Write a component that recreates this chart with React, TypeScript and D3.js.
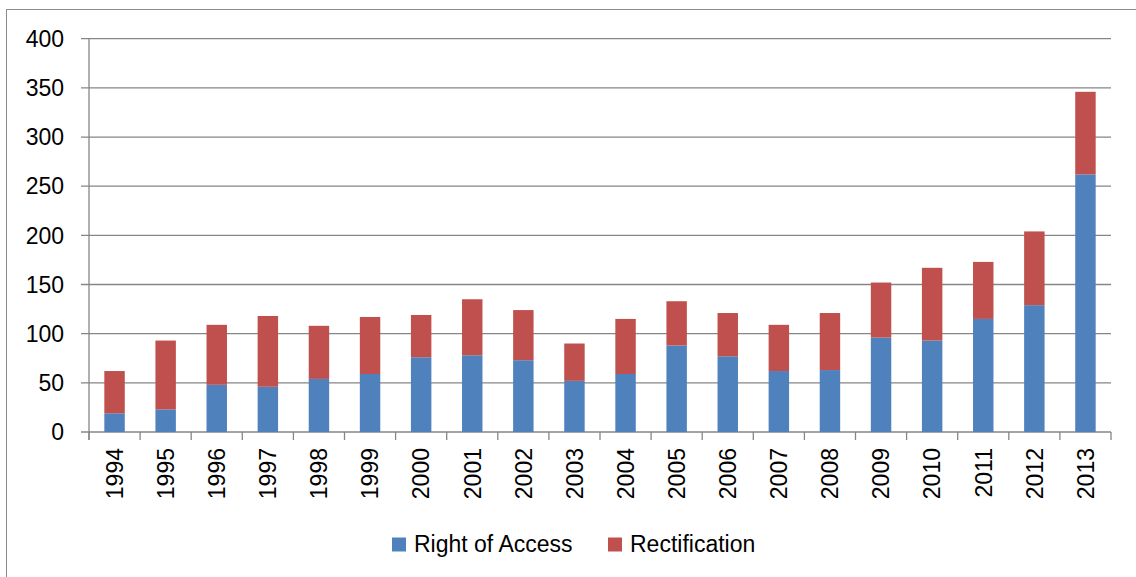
import React from "react";
import * as d3 from "d3";

const years = ["1994","1995","1996","1997","1998","1999","2000","2001","2002","2003","2004","2005","2006","2007","2008","2009","2010","2011","2012","2013"];
const rightOfAccess = [19,23,48,46,54,59,76,78,73,52,59,88,77,62,63,96,93,115,129,262];
const rectification = [43,70,61,72,54,58,43,57,51,38,56,45,44,47,58,56,74,58,75,84];
const yTicks = [0,50,100,150,200,250,300,350,400];
const seriesNames = ["Right of Access","Rectification"];
const seriesColors = ["#4F81BD","#C0504D"];

const W = 1136, H = 577;
const plotLeft = 89, plotRight = 1111, plotTop = 38.7, plotBottom = 432;
const FONT = "'Liberation Sans', Arial, sans-serif";

export default function App() {
  const x = d3.scaleBand<string>().domain(years).range([plotLeft, plotRight]).paddingInner(0.6).paddingOuter(0.3);
  const band = d3.scaleBand<string>().domain(years).range([plotLeft, plotRight]);
  const y = d3.scaleLinear().domain([0, 400]).range([plotBottom, plotTop]);

  const table = years.map((yr, i) => ({ year: yr, a: rightOfAccess[i], r: rectification[i] }));
  const stack = d3.stack<any>().keys(["a", "r"])(table);
  const grid = "#868686";

  const edges = years.map((yr) => band(yr)!).concat([plotRight]);

  return (
    <svg width={W} height={H} style={{ position: "absolute", left: 0, top: 0, background: "#fff" }} fontFamily={FONT}>
      <rect x={6.5} y={9.5} width={1200} height={700} fill="#fff" stroke="#8c8c8c" strokeWidth={1} />
      {yTicks.map((t) => (
        <g key={t}>
          <line x1={plotLeft - 8} x2={plotRight} y1={y(t)} y2={y(t)} stroke={grid} strokeWidth={1.3} />
          <text x={64} y={y(t)} dy="0.36em" textAnchor="end" fontSize={23} fill="#000">{t}</text>
        </g>
      ))}
      <line x1={plotLeft} x2={plotLeft} y1={plotTop} y2={plotBottom + 8} stroke={grid} strokeWidth={1.3} />
      {edges.map((e, i) => (
        <line key={i} x1={e} x2={e} y1={plotBottom} y2={plotBottom + 8} stroke={grid} strokeWidth={1.3} />
      ))}
      {stack.map((s, si) => (
        <g key={si} fill={seriesColors[si]}>
          {s.map((d, i) => (
            <rect key={i} x={x(years[i])} width={x.bandwidth()} y={y(d[1])} height={y(d[0]) - y(d[1])} />
          ))}
        </g>
      ))}
      {years.map((yr) => {
        const cx = band(yr)! + band.bandwidth() / 2;
        return (
          <text key={yr} transform={`translate(${cx},448) rotate(-90)`} dy="0.36em" textAnchor="end" fontSize={23} fill="#000">{yr}</text>
        );
      })}
      <g>
        <rect x={392} y={537.5} width={14} height={14} fill={seriesColors[0]} />
        <text x={414} y={552} fontSize={23} fill="#000">{seriesNames[0]}</text>
        <rect x={608} y={537.5} width={14} height={14} fill={seriesColors[1]} />
        <text x={630} y={552} fontSize={23} fill="#000">{seriesNames[1]}</text>
      </g>
    </svg>
  );
}
